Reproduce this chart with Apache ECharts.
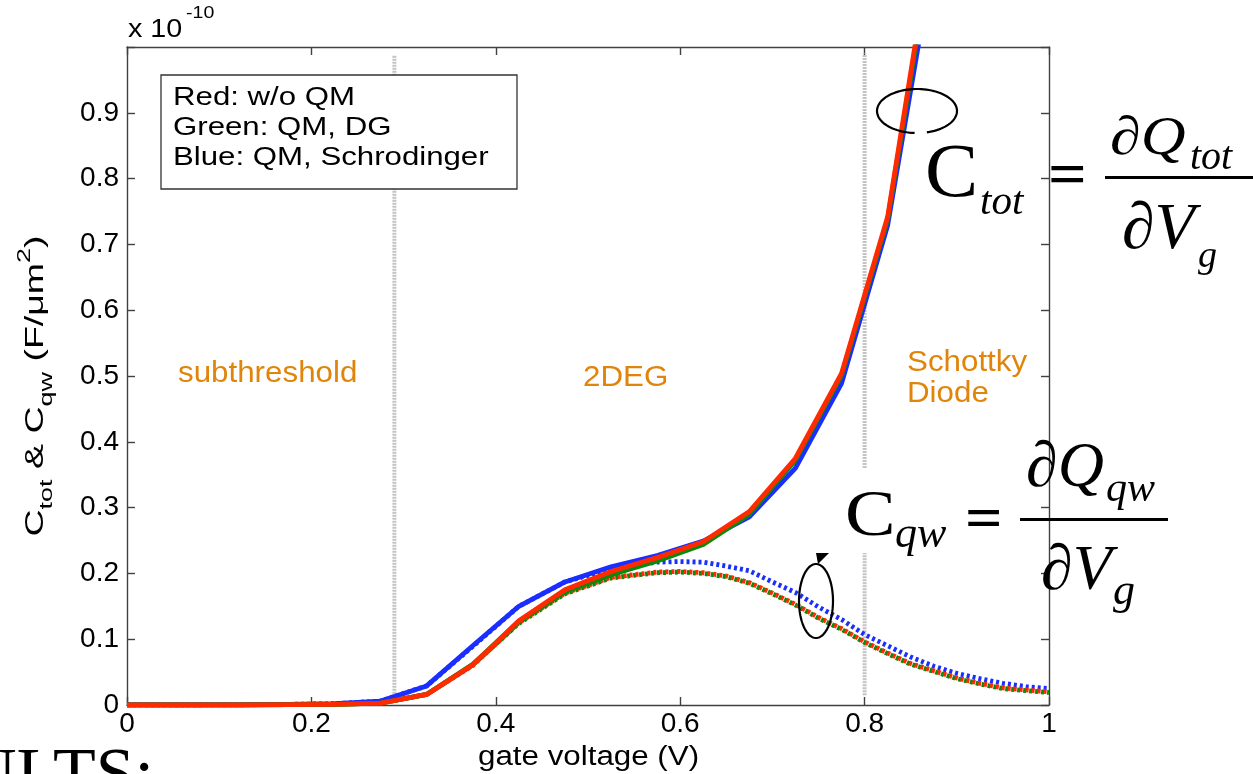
<!DOCTYPE html>
<html>
<head>
<meta charset="utf-8">
<script src="https://cdn.jsdelivr.net/npm/echarts@6/dist/echarts.min.js"></script>
<style>
html,body{margin:0;padding:0;background:#fff;}
#chart{width:1253px;height:774px;}
</style>
</head>
<body>
<div id="chart"></div>
<script>
// ---- data (y values in units of 1e-10 F/um^2) ----
var ctotX = [0, 0.025, 0.075, 0.125, 0.175, 0.225, 0.275, 0.325, 0.375, 0.425, 0.475, 0.525, 0.575, 0.625, 0.675, 0.725, 0.775, 0.825, 0.875];
var ctotRed   = [0, 0, 0, 0, 0.0005, 0.001, 0.003, 0.016, 0.061, 0.128, 0.175, 0.203, 0.224, 0.248, 0.294, 0.375, 0.504, 0.742, 1.18];
var ctotGreen = [0, 0, 0, 0, 0.0005, 0.001, 0.003, 0.016, 0.062, 0.127, 0.172, 0.198, 0.219, 0.244, 0.290, 0.372, 0.501, 0.738, 1.17];
var ctotBlue  = [0, 0, 0, 0.0002, 0.001, 0.002, 0.006, 0.029, 0.090, 0.150, 0.187, 0.210, 0.227, 0.249, 0.286, 0.360, 0.489, 0.729, 1.14];

var cqwX = [0, 0.025, 0.075, 0.125, 0.175, 0.225, 0.275, 0.325, 0.375, 0.425, 0.475, 0.525, 0.575, 0.6, 0.625, 0.65, 0.675, 0.7, 0.725, 0.75, 0.775, 0.8, 0.825, 0.85, 0.875, 0.9, 0.925, 0.95, 0.975, 1.0];
var cqwRed   = [0, 0, 0, 0, 0.0005, 0.001, 0.003, 0.016, 0.060, 0.125, 0.170, 0.194, 0.202, 0.203, 0.201, 0.196, 0.186, 0.170, 0.153, 0.133, 0.116, 0.096, 0.079, 0.063, 0.052, 0.041, 0.033, 0.026, 0.023, 0.020];
var cqwGreen = [0, 0, 0, 0, 0.0005, 0.001, 0.003, 0.016, 0.061, 0.124, 0.169, 0.193, 0.201, 0.202, 0.200, 0.195, 0.185, 0.169, 0.152, 0.132, 0.115, 0.095, 0.078, 0.062, 0.051, 0.040, 0.032, 0.025, 0.022, 0.019];
var cqwBlue  = [0, 0, 0, 0.0002, 0.001, 0.002, 0.006, 0.029, 0.089, 0.150, 0.187, 0.207, 0.217, 0.218, 0.217, 0.211, 0.204, 0.187, 0.171, 0.149, 0.130, 0.107, 0.090, 0.073, 0.059, 0.048, 0.040, 0.033, 0.028, 0.025];

var regionBounds = [0.29, 0.8];
var xTickLabels = ['0', '0.2', '0.4', '0.6', '0.8', '1'];
var yTickLabels = ['0', '0.1', '0.2', '0.3', '0.4', '0.5', '0.6', '0.7', '0.8', '0.9'];
var legendLines = ['Red: w/o QM', 'Green: QM, DG', 'Blue: QM, Schrodinger'];
var regionNames = ['subthreshold', '2DEG', 'Schottky\nDiode'];

function pairs(xs, ys) { return xs.map(function (x, i) { return [x, ys[i]]; }); }

var RED = '#ff2a00', GREEN = '#0a8a0a', BLUE = '#1a2eff', ORANGE = '#e0850a', AX = '#404040';
var SANS = 'Liberation Sans, Arial, Helvetica, sans-serif';
var SERIF = 'Liberation Serif, Times New Roman, serif';

var chart = echarts.init(document.getElementById('chart'), null, {renderer: 'canvas'});

function solid(name, color, ys, z) {
  return {type: 'line', name: name, data: pairs(ctotX, ys), showSymbol: false, symbol: 'none', z: z,
    lineStyle: {color: color, width: 4.8, join: 'round'}, animation: false, clip: true};
}
function dotted(name, color, ys, z, off) {
  return {type: 'line', name: name, data: pairs(cqwX, ys), showSymbol: false, symbol: 'none', z: z,
    lineStyle: {color: color, width: 4.8, type: [3, 3], dashOffset: off, cap: 'butt'}, animation: false, clip: true};
}
function vline(x, y0, y1) {
  return {type: 'line', data: [[x, y0], [x, y1]], showSymbol: false, symbol: 'none', z: 1, silent: true,
    lineStyle: {color: '#c4c4c4', width: 4, type: [2, 1]}, animation: false};
}
// annotation outline helper (ellipse drawn as a polyline)
function ellipsePts(cx, cy, rx, ry, a0, a1) {
  var pts = [], n = 90;
  for (var i = 0; i <= n; i++) {
    var a = a0 + (a1 - a0) * i / n;
    pts.push([cx + rx * Math.cos(a), cy + ry * Math.sin(a)]);
  }
  return pts;
}
function txt(x, y, text, font, opt) {
  opt = opt || {};
  return {type: 'text', x: x, y: y, z: opt.z || 30, scaleX: opt.sx || 1, rotation: opt.rot || 0,
    style: {text: text, font: font, fill: opt.fill || '#000', align: opt.align || 'left',
      verticalAlign: 'middle', lineHeight: opt.lh, rich: opt.rich}};
}

function axisCommon() {
  return {
    axisLine: {show: true, onZero: false, lineStyle: {color: AX, width: 1.4}},
    axisTick: {show: true, inside: true, length: 8, lineStyle: {color: AX, width: 1.4}},
    splitLine: {show: false}
  };
}

var option = {
  backgroundColor: '#fff',
  animation: false,
  grid: {left: 127, top: 47, right: 204, bottom: 69, containLabel: false},
  xAxis: [
    Object.assign({type: 'value', min: 0, max: 1, interval: 0.2, position: 'bottom',
      axisLabel: {fontSize: 28, fontFamily: SANS, color: '#000', margin: 5,
        formatter: function (v) { return xTickLabels[Math.round(v / 0.2)]; }}}, axisCommon()),
    Object.assign({type: 'value', min: 0, max: 1, interval: 0.2, position: 'top', axisLabel: {show: false}}, axisCommon())
  ],
  yAxis: [
    Object.assign({type: 'value', min: 0, max: 1, interval: 0.1, position: 'left',
      axisLabel: {fontSize: 28, fontFamily: SANS, color: '#000', margin: 8,
        formatter: function (v) { var i = Math.round(v * 10); return i < yTickLabels.length ? yTickLabels[i] : ''; }}}, axisCommon()),
    Object.assign({type: 'value', min: 0, max: 1, interval: 0.1, position: 'right', axisLabel: {show: false}}, axisCommon())
  ],
  series: [
    vline(regionBounds[0], 0.008, 0.988),
    vline(regionBounds[1], 0.36, 0.99),
    vline(regionBounds[1], 0.015, 0.231),
    dotted('Cqw blue', BLUE, cqwBlue, 3, 0),
    dotted('Cqw green', GREEN, cqwGreen, 4, 3),
    dotted('Cqw red', RED, cqwRed, 5, 0),
    solid('Ctot blue', BLUE, ctotBlue, 6),
    solid('Ctot green', GREEN, ctotGreen, 7),
    solid('Ctot red', RED, ctotRed, 8)
  ],
  graphic: [
    // exponent
    txt(128, 30, 'x 10', '25px ' + SANS, {sx: 1.15}),
    txt(186, 13, '-10', '17px ' + SANS, {sx: 1.15}),
    // legend box
    {type: 'rect', shape: {x: 161, y: 75, width: 356, height: 114}, style: {fill: '#fff', stroke: '#333', lineWidth: 1.3}, z: 50},
    txt(173, 98, legendLines[0], '26px ' + SANS, {sx: 1.2, z: 51}),
    txt(173, 128, legendLines[1], '26px ' + SANS, {sx: 1.2, z: 51}),
    txt(173, 158, legendLines[2], '26px ' + SANS, {sx: 1.2, z: 51}),
    // region names
    txt(178, 374, regionNames[0], '29px ' + SANS, {fill: ORANGE, sx: 1.08}),
    txt(583, 378, regionNames[1], '29px ' + SANS, {fill: ORANGE, sx: 1.08}),
    txt(907, 378, regionNames[2], '29px ' + SANS, {fill: ORANGE, sx: 1.08, lh: 31}),
    // axis names
    txt(478, 758, 'gate voltage (V)', '27px ' + SANS, {sx: 1.16}),
    txt(36, 386, '{a|C}{s|tot}{a| & C}{s|qw}{a| (F/μm}{p|2}{a|)}', '25px ' + SANS, {rot: Math.PI / 2, align: 'center', sx: 1.5,
      rich: {
        a: {fontSize: 25, fontFamily: SANS, lineHeight: 44, verticalAlign: 'middle'},
        s: {fontSize: 18, fontFamily: SANS, verticalAlign: 'bottom', lineHeight: 18, padding: [0, 0, 2, 0]},
        p: {fontSize: 18, fontFamily: SANS, verticalAlign: 'top', lineHeight: 18, padding: [2, 0, 0, 0]}
      }}),
    // Ctot equation
    txt(925, 176, 'C', '76px ' + SERIF, {sx: 1.05}),
    txt(980, 203, 'tot', 'italic 41px ' + SERIF),
    txt(1048, 178, '=', 'bold 62px ' + SERIF, {sx: 1.1}),
    {type: 'rect', z: 30, shape: {x: 1105, y: 176, width: 148, height: 3}, style: {fill: '#000'}},
    txt(1110, 140, '∂Q', 'italic 54px ' + SERIF, {sx: 1.15}),
    txt(1190, 158, 'tot', 'italic 40px ' + SERIF),
    txt(1122, 231, '∂V', 'italic 66px ' + SERIF),
    txt(1198, 257, 'g', 'italic 38px ' + SERIF),
    // Cqw equation
    txt(845, 518, 'C', '66px ' + SERIF, {sx: 1.15}),
    txt(895, 535, 'qw', 'italic 44px ' + SERIF),
    txt(965, 521, '=', 'bold 60px ' + SERIF, {sx: 1.1}),
    {type: 'rect', z: 30, shape: {x: 1020, y: 518, width: 148, height: 3}, style: {fill: '#000'}},
    txt(1026, 469, '∂Q', 'italic 64px ' + SERIF),
    txt(1106, 490, 'qw', 'italic 42px ' + SERIF),
    txt(1041, 572, '∂V', 'italic 64px ' + SERIF),
    txt(1113, 592, 'g', 'italic 44px ' + SERIF),
    // ellipses (annotations)
    {type: 'polyline', z: 20, shape: {points: ellipsePts(917, 111, 40, 22, Math.PI / 2 + 0.06, Math.PI / 2 + 2 * Math.PI - 0.25)},
      style: {fill: null, stroke: '#000', lineWidth: 2.2}},
    {type: 'polyline', z: 20, shape: {points: ellipsePts(816, 601, 17, 37, 0, 2 * Math.PI)},
      style: {fill: null, stroke: '#000', lineWidth: 2.2}},
    {type: 'polygon', z: 20, shape: {points: [[816, 553], [829, 553], [818, 564]]}, style: {fill: '#000'}},
    // cropped slide title
    txt(-34, 778, 'ULTS:', '70px ' + SERIF)
  ]
};
chart.setOption(option);
</script>
</body>
</html>
